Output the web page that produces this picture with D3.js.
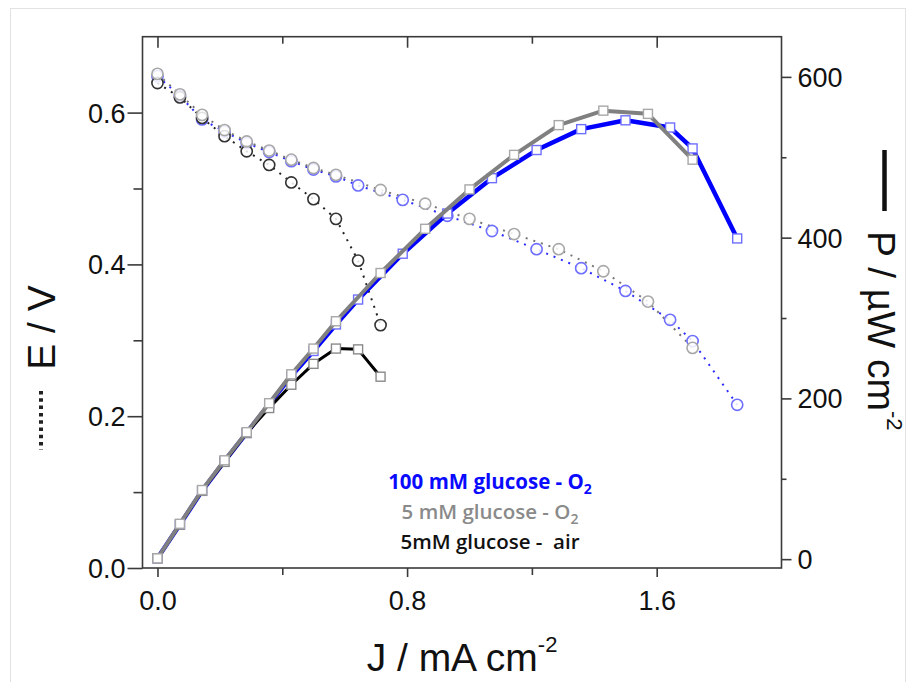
<!DOCTYPE html>
<html><head><meta charset="utf-8">
<script src="https://cdn.jsdelivr.net/npm/d3@7"></script>
<style>html,body{margin:0;padding:0;background:#fff}svg{display:block}</style>
</head><body>
<svg id="chart" width="914" height="682"></svg>
<script>
// ---- data ----
const J_BLUE = [0, 0.072, 0.143, 0.215, 0.286, 0.358, 0.429, 0.5, 0.572, 0.643, 0.786, 0.929, 1.072, 1.215, 1.358, 1.5, 1.643, 1.715, 1.858];
const E_BLUE = [0.648, 0.622, 0.591, 0.575, 0.560, 0.548, 0.536, 0.525, 0.516, 0.504, 0.485, 0.464, 0.444, 0.420, 0.395, 0.365, 0.327, 0.299, 0.215];
const P_BLUE = [1, 43, 85, 122, 157, 193, 228, 259, 292, 323, 380, 430, 474, 509, 535, 546, 537, 511, 399];

const J_GRAY = [0, 0.072, 0.143, 0.215, 0.286, 0.358, 0.429, 0.5, 0.572, 0.715, 0.858, 1.0, 1.143, 1.286, 1.429, 1.572, 1.715];
const E_GRAY = [0.651, 0.624, 0.597, 0.577, 0.562, 0.550, 0.538, 0.527, 0.518, 0.498, 0.480, 0.460, 0.440, 0.420, 0.391, 0.351, 0.290];
const P_GRAY = [1, 44, 86, 123, 158, 194, 230, 262, 296, 356, 411, 460, 503, 540, 558, 554, 497];

const J_AIR = [0, 0.072, 0.143, 0.215, 0.286, 0.358, 0.429, 0.5, 0.572, 0.643, 0.715];
const E_AIR = [0.639, 0.620, 0.593, 0.569, 0.549, 0.531, 0.508, 0.486, 0.460, 0.405, 0.320];
const P_AIR = [1, 43, 85, 121, 157, 188, 217, 243, 262, 261, 227];

const X_TICKS = [0, 0.4, 0.8, 1.2, 1.6];
const X_LABELS = [0, 0.8, 1.6];
const YL_TICKS = [0, 0.1, 0.2, 0.3, 0.4, 0.5, 0.6];
const YL_LABELS = [0, 0.2, 0.4, 0.6];
const YR_TICKS = [0, 100, 200, 300, 400, 500, 600];
const YR_LABELS = [0, 200, 400, 600];

const LEGEND = ["100 mM glucose - O", "5 mM glucose - O", "5mM glucose -\u00a0 air"];

// ---- layout ----
const L = 142.5, R = 781.5, T = 36.7, B = 568;
const svg = d3.select("#chart");
const x = d3.scaleLinear().domain([-0.048, 2.0]).range([L, R]);
const yE = d3.scaleLinear().domain([0, 0.7]).range([B, T]);
const yP = d3.scaleLinear().domain([-11, 650]).range([B, T]);
const FONT = "Arial, 'Liberation Sans', Helvetica, sans-serif";

// outer faint border
svg.append("rect").attr("x", 10.5).attr("y", 8.5).attr("width", 895).attr("height", 700)
  .attr("fill", "none").attr("stroke", "#e2e2e2").attr("stroke-width", 1);

const series = [
  {J: J_BLUE, E: E_BLUE, P: P_BLUE, line: "#0000ff", lw: 4.5, mk: "#6f6fff", dot: "#2a2aff"},
  {J: J_AIR, E: E_AIR, P: P_AIR, line: "#000000", lw: 3, mk: "#8a8a8a", dot: "#222", cmk: "#333"},
  {J: J_GRAY, E: E_GRAY, P: P_GRAY, line: "#808080", lw: 4, mk: "#a8a8a8", dot: "#777"}
];

const gE = svg.append("g");
series.forEach(s => {
  const pts = s.J.map((j, i) => [j, s.E[i]]);
  gE.append("path").datum(pts)
    .attr("d", d3.line().x(d => x(d[0])).y(d => yE(d[1])))
    .attr("fill", "none").attr("stroke", s.dot).attr("stroke-width", 2)
    .attr("stroke-dasharray", "2 6");
});
series.forEach(s => {
  const pts = s.J.map((j, i) => [j, s.E[i]]);
  gE.selectAll(null).data(pts).enter().append("circle")
    .attr("cx", d => x(d[0])).attr("cy", d => yE(d[1])).attr("r", 5.6)
    .attr("fill", "rgba(255,255,255,0.85)").attr("stroke", s.cmk || s.mk).attr("stroke-width", 1.6);
});

const gP = svg.append("g");
series.forEach(s => {
  const pts = s.J.map((j, i) => [j, s.P[i]]);
  gP.append("path").datum(pts)
    .attr("d", d3.line().x(d => x(d[0])).y(d => yP(d[1])))
    .attr("fill", "none").attr("stroke", s.line).attr("stroke-width", s.lw)
    .attr("stroke-linejoin", "round");
  gP.selectAll(null).data(pts).enter().append("rect")
    .attr("x", d => x(d[0]) - 4.5).attr("y", d => yP(d[1]) - 4.5)
    .attr("width", 9).attr("height", 9)
    .attr("fill", "#fff").attr("stroke", s.mk).attr("stroke-width", 1.4);
});

// ---- frame & axes ----
const AX = "#3a3a3a";
svg.append("rect").attr("x", L).attr("y", T).attr("width", R - L).attr("height", B - T)
  .attr("fill", "none").attr("stroke", AX).attr("stroke-width", 1.6);

const isMaj = (v, arr) => arr.some(a => Math.abs(a - v) < 1e-9);

// bottom axis
const xb = d3.axisBottom(x).tickValues(X_TICKS)
  .tickSize(0).tickFormat(d => isMaj(d, X_LABELS) ? d3.format(".1f")(d) : "");
const gxb = svg.append("g").attr("transform", `translate(0,${B})`).call(xb);
gxb.select(".domain").remove();
gxb.selectAll(".tick line").attr("y2", d => isMaj(d, X_LABELS) ? 9 : 7).attr("stroke", AX).attr("stroke-width", 1.6);
gxb.selectAll(".tick text").attr("y", 42).attr("dy", 0).attr("font-size", 27).attr("font-family", FONT).attr("fill", "#111");

// top axis (inward ticks)
const xt = d3.axisTop(x).tickValues(X_TICKS).tickSize(0).tickFormat("");
const gxt = svg.append("g").attr("transform", `translate(0,${T})`).call(xt);
gxt.select(".domain").remove();
gxt.selectAll(".tick line").attr("y2", d => isMaj(d, X_LABELS) ? 11 : 7).attr("stroke", AX).attr("stroke-width", 1.6);

// left axis
const yl = d3.axisLeft(yE).tickValues(YL_TICKS).tickSize(0)
  .tickFormat(d => isMaj(d, YL_LABELS) ? d3.format(".1f")(d) : "");
const gyl = svg.append("g").attr("transform", `translate(${L},0)`).call(yl);
gyl.select(".domain").remove();
gyl.selectAll(".tick line").attr("x2", d => isMaj(d, YL_LABELS) ? -15 : -9).attr("stroke", AX).attr("stroke-width", 1.6);
gyl.selectAll(".tick text").attr("x", -17).attr("dy", "0.35em").attr("font-size", 27).attr("font-family", FONT).attr("fill", "#111");

// right axis
const yr = d3.axisRight(yP).tickValues(YR_TICKS).tickSize(0)
  .tickFormat(d => isMaj(d, YR_LABELS) ? String(d) : "");
const gyr = svg.append("g").attr("transform", `translate(${R},0)`).call(yr);
gyr.select(".domain").remove();
gyr.selectAll(".tick line").attr("x2", d => isMaj(d, YR_LABELS) ? 10 : 5).attr("stroke", AX).attr("stroke-width", 1.6);
gyr.selectAll(".tick text").attr("x", 16).attr("dy", "0.35em").attr("font-size", 27).attr("font-family", FONT).attr("fill", "#111");

// ---- axis titles ----
const xt1 = svg.append("text").attr("x", (L + R) / 2).attr("y", 671).attr("text-anchor", "middle")
  .attr("font-size", 39).attr("font-family", FONT).attr("fill", "#111");
xt1.append("tspan").text("J / mA cm");
xt1.append("tspan").attr("font-size", 22).attr("dy", -19).text("-2");

svg.append("text").attr("transform", "translate(55,327.5) rotate(-90)").attr("text-anchor", "middle")
  .attr("font-size", 39).attr("font-family", FONT).attr("fill", "#111").text("E / V");
svg.append("line").attr("x1", 41).attr("x2", 41).attr("y1", 391).attr("y2", 450)
  .attr("stroke", "#222").attr("stroke-width", 4).attr("stroke-dasharray", "3.5 3.8");

svg.append("line").attr("x1", 884.5).attr("x2", 884.5).attr("y1", 150).attr("y2", 211)
  .attr("stroke", "#111").attr("stroke-width", 4.5);
const rt = svg.append("text").attr("transform", "translate(868,231) rotate(90)").attr("text-anchor", "start")
  .attr("font-size", 39).attr("font-family", FONT).attr("fill", "#111");
rt.append("tspan").text("P / µW cm");
rt.append("tspan").attr("font-size", 22).attr("dy", -19).text("-2");

// ---- legend ----
const LEG_COL = ["#0a0aff", "#8a8a8a", "#111"];
const LEG_Y = [489, 519, 549];
LEGEND.forEach((t, i) => {
  const tx = svg.append("text").attr("x", 490).attr("y", LEG_Y[i]).attr("text-anchor", "middle")
    .attr("font-size", 20.5).attr("font-weight", i === 0 ? 700 : 600)
    .attr("font-family", "'Open Sans', 'Noto Sans', sans-serif").attr("fill", LEG_COL[i]);
  tx.append("tspan").text(t);
  if (i < 2) tx.append("tspan").attr("font-size", 14).attr("dy", 5).text("2");
});
</script>
</body></html>
